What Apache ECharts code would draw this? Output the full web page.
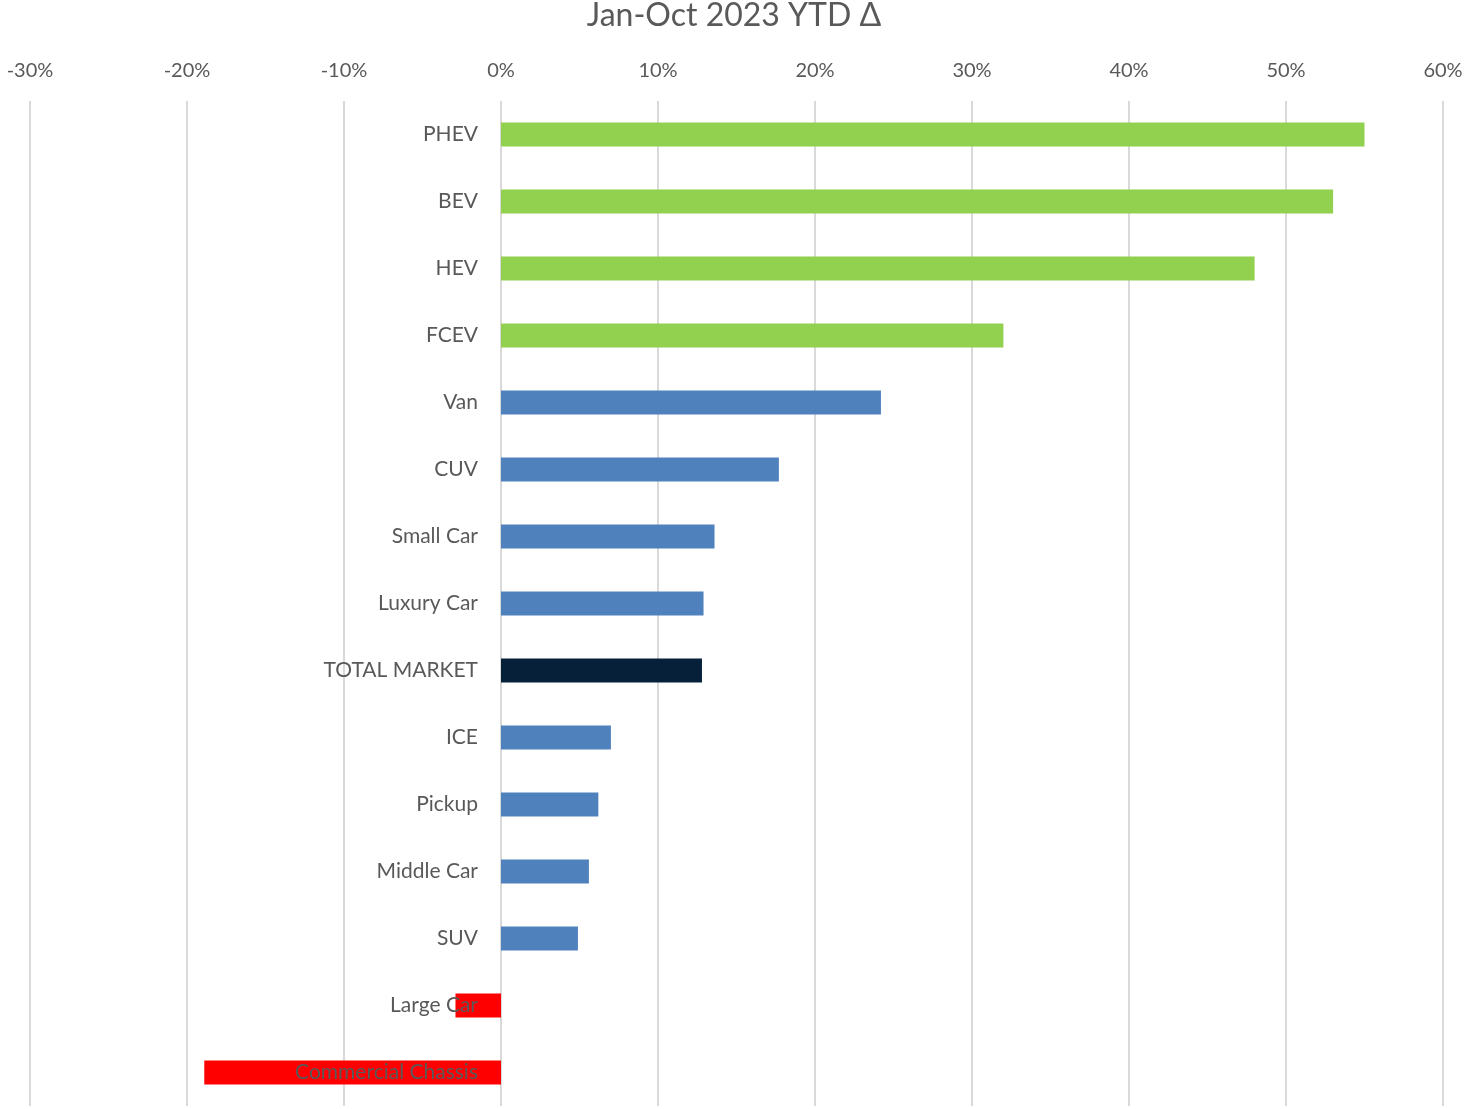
<!DOCTYPE html>
<html>
<head>
<meta charset="utf-8">
<script src="https://cdn.jsdelivr.net/npm/echarts@6/dist/echarts.min.js"></script>
<style>
html,body{margin:0;padding:0;background:#fff;}
#chart{width:1468px;height:1109px;}
</style>
</head>
<body>
<div id="chart"></div>
<script>
const categories = ['PHEV','BEV','HEV','FCEV','Van','CUV','Small Car','Luxury Car','TOTAL MARKET','ICE','Pickup','Middle Car','SUV','Large Car','Commercial Chassis'];
const values = [55.0, 53.0, 48.0, 32.0, 24.2, 17.7, 13.6, 12.9, 12.8, 7.0, 6.2, 5.6, 4.9, -2.9, -18.9];
const evCategories = ['PHEV','BEV','HEV','FCEV'];
const totalCategory = 'TOTAL MARKET';
const tickMin = -30, tickMax = 60, tickStep = 10;

const FONT = 'Lato';
const GRID_LEFT = 30;
const chart = echarts.init(document.getElementById('chart'));
chart.setOption({
  animation: false,
  backgroundColor: '#ffffff',
  title: {
    text: 'Jan-Oct 2023 YTD Δ',
    left: 'center',
    top: -5,
    textStyle: {fontFamily: FONT, fontSize: 32, fontWeight: 'normal', color: '#595959'}
  },
  grid: {left: GRID_LEFT, right: 25, top: 101, bottom: 3, containLabel: false, outerBoundsMode: 'none'},
  xAxis: {
    type: 'value',
    position: 'top',
    min: tickMin, max: tickMax, interval: tickStep,
    axisLine: {show: false},
    axisTick: {show: false},
    axisLabel: {formatter: '{value}%', margin: 20, fontFamily: FONT, fontSize: 20, color: '#595959'},
    splitLine: {show: true, lineStyle: {color: '#d9d9d9', width: 2}}
  },
  yAxis: {
    type: 'category',
    data: categories,
    inverse: true,
    z: 10,
    axisLine: {show: false, onZero: true},
    axisTick: {show: false},
    axisLabel: {margin: 23, fontFamily: FONT, fontSize: 21, color: '#595959'},
    splitLine: {show: false}
  },
  series: [{
    type: 'bar',
    data: values,
    barWidth: 24,
    itemStyle: {
      color: function (p) {
        if (p.value < 0) return '#ff0000';
        if (evCategories.indexOf(p.name) >= 0) return '#92d050';
        if (p.name === totalCategory) return '#06203a';
        return '#4f81bd';
      }
    }
  }]
});
// place the category axis on the value axis' zero line
const zeroPx = chart.convertToPixel({xAxisIndex: 0}, 0);
chart.setOption({yAxis: {offset: -(zeroPx - GRID_LEFT)}});
</script>
</body>
</html>
